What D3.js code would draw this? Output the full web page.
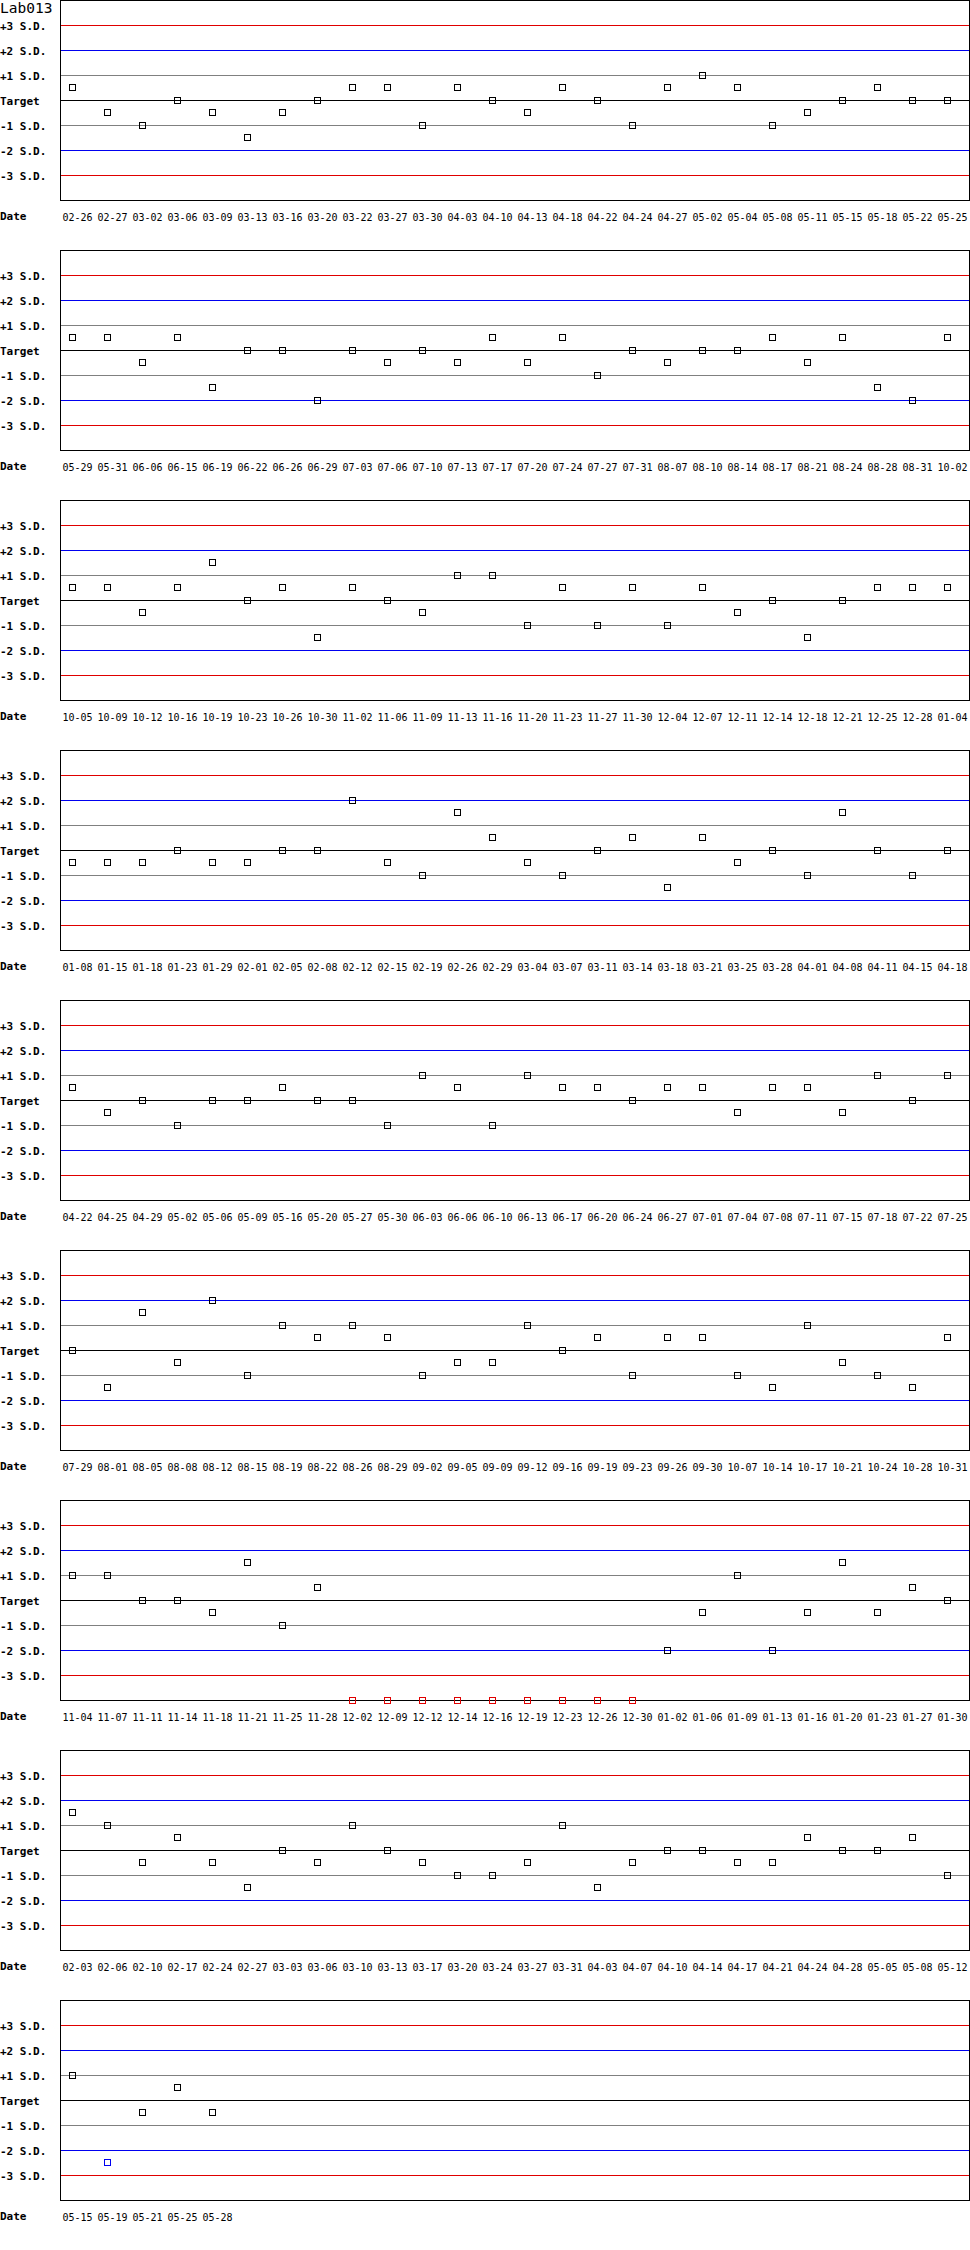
<!DOCTYPE html>
<html>
<head>
<meta charset="utf-8">
<script src="https://cdn.jsdelivr.net/npm/d3@7"></script>
<style>
  html, body { margin: 0; padding: 0; background: #fff; }
  svg { display: block; }
  text { font-family: "DejaVu Sans Mono", "Liberation Mono", monospace; }
</style>
</head>
<body>
<div id="chart"></div>
<script>
// ---------- data ----------
const chartTitle = "Lab013";
const sdLevels = [3, 2, 1, 0, -1, -2, -3];
const sdLabels = ["+3 S.D.", "+2 S.D.", "+1 S.D.", "Target", "-1 S.D.", "-2 S.D.", "-3 S.D."];
const xTitle = "Date";

const dates1 = ["02-26","02-27","03-02","03-06","03-09","03-13","03-16","03-20","03-22","03-27","03-30","04-03","04-10","04-13","04-18","04-22","04-24","04-27","05-02","05-04","05-08","05-11","05-15","05-18","05-22","05-25"];
const values1 = [0.5,-0.5,-1,0,-0.5,-1.5,-0.5,0,0.5,0.5,-1,0.5,0,-0.5,0.5,0,-1,0.5,1,0.5,-1,-0.5,0,0.5,0,0];

const dates2 = ["05-29","05-31","06-06","06-15","06-19","06-22","06-26","06-29","07-03","07-06","07-10","07-13","07-17","07-20","07-24","07-27","07-31","08-07","08-10","08-14","08-17","08-21","08-24","08-28","08-31","10-02"];
const values2 = [0.5,0.5,-0.5,0.5,-1.5,0,0,-2,0,-0.5,0,-0.5,0.5,-0.5,0.5,-1,0,-0.5,0,0,0.5,-0.5,0.5,-1.5,-2,0.5];

const dates3 = ["10-05","10-09","10-12","10-16","10-19","10-23","10-26","10-30","11-02","11-06","11-09","11-13","11-16","11-20","11-23","11-27","11-30","12-04","12-07","12-11","12-14","12-18","12-21","12-25","12-28","01-04"];
const values3 = [0.5,0.5,-0.5,0.5,1.5,0,0.5,-1.5,0.5,0,-0.5,1,1,-1,0.5,-1,0.5,-1,0.5,-0.5,0,-1.5,0,0.5,0.5,0.5];

const dates4 = ["01-08","01-15","01-18","01-23","01-29","02-01","02-05","02-08","02-12","02-15","02-19","02-26","02-29","03-04","03-07","03-11","03-14","03-18","03-21","03-25","03-28","04-01","04-08","04-11","04-15","04-18"];
const values4 = [-0.5,-0.5,-0.5,0,-0.5,-0.5,0,0,2,-0.5,-1,1.5,0.5,-0.5,-1,0,0.5,-1.5,0.5,-0.5,0,-1,1.5,0,-1,0];

const dates5 = ["04-22","04-25","04-29","05-02","05-06","05-09","05-16","05-20","05-27","05-30","06-03","06-06","06-10","06-13","06-17","06-20","06-24","06-27","07-01","07-04","07-08","07-11","07-15","07-18","07-22","07-25"];
const values5 = [0.5,-0.5,0,-1,0,0,0.5,0,0,-1,1,0.5,-1,1,0.5,0.5,0,0.5,0.5,-0.5,0.5,0.5,-0.5,1,0,1];

const dates6 = ["07-29","08-01","08-05","08-08","08-12","08-15","08-19","08-22","08-26","08-29","09-02","09-05","09-09","09-12","09-16","09-19","09-23","09-26","09-30","10-07","10-14","10-17","10-21","10-24","10-28","10-31"];
const values6 = [0,-1.5,1.5,-0.5,2,-1,1,0.5,1,0.5,-1,-0.5,-0.5,1,0,0.5,-1,0.5,0.5,-1,-1.5,1,-0.5,-1,-1.5,0.5];

const dates7 = ["11-04","11-07","11-11","11-14","11-18","11-21","11-25","11-28","12-02","12-09","12-12","12-14","12-16","12-19","12-23","12-26","12-30","01-02","01-06","01-09","01-13","01-16","01-20","01-23","01-27","01-30"];
const values7 = [1,1,0,0,-0.5,1.5,-1,0.5,-4,-4,-4,-4,-4,-4,-4,-4,-4,-2,-0.5,1,-2,-0.5,1.5,-0.5,0.5,0];

const dates8 = ["02-03","02-06","02-10","02-17","02-24","02-27","03-03","03-06","03-10","03-13","03-17","03-20","03-24","03-27","03-31","04-03","04-07","04-10","04-14","04-17","04-21","04-24","04-28","05-05","05-08","05-12"];
const values8 = [1.5,1,-0.5,0.5,-0.5,-1.5,0,-0.5,1,0,-0.5,-1,-1,-0.5,1,-1.5,-0.5,0,0,-0.5,-0.5,0.5,0,0,0.5,-1];

const dates9 = ["05-15","05-19","05-21","05-25","05-28"];
const values9 = [1,-2.5,-0.5,0.5,-0.5];

const panels = [
  [dates1, values1], [dates2, values2], [dates3, values3],
  [dates4, values4], [dates5, values5], [dates6, values6],
  [dates7, values7], [dates8, values8], [dates9, values9]
];

// ---------- layout ----------
const W = 970, H = 2250;
const panelStep = 250;
const plotLeft = 60, plotRight = 969, plotTop = 0, plotBottom = 200;
const pointsPerPanel = 26;

const RED = "#e00000", BLUE = "#0000f0", GRAY = "#808080", BLACK = "#000000";
function lineColor(l) {
  const a = Math.abs(l);
  return a === 3 ? RED : a === 2 ? BLUE : a === 1 ? GRAY : BLACK;
}
function pointColor(v) {
  const a = Math.abs(v);
  return a > 3 ? RED : a > 2 ? BLUE : BLACK;
}

const x = d3.scaleLinear().domain([0, pointsPerPanel - 1]).range([72, 72 + 35 * (pointsPerPanel - 1)]);
const y = d3.scaleLinear().domain([4, -4]).range([plotTop, plotBottom]).clamp(true);

const svg = d3.select("#chart").append("svg")
  .attr("width", W).attr("height", H)
  .attr("viewBox", `0 0 ${W} ${H}`);

svg.append("rect").attr("width", W).attr("height", H).attr("fill", "#fff");

svg.append("text")
  .attr("x", 0).attr("y", 13)
  .attr("font-size", "14.5px")
  .attr("fill", "#000")
  .text(chartTitle);

panels.forEach(([dates, values], p) => {
  const g = svg.append("g").attr("transform", `translate(0,${p * panelStep})`);

  // reference lines
  g.selectAll("line.sd").data(sdLevels).join("line")
    .attr("class", "sd")
    .attr("x1", plotLeft).attr("x2", plotRight + 1)
    .attr("y1", d => Math.floor(y(d)) + 0.5)
    .attr("y2", d => Math.floor(y(d)) + 0.5)
    .attr("stroke", d => lineColor(d))
    .attr("stroke-width", 1)
    .attr("shape-rendering", "crispEdges");

  // frame
  g.append("rect")
    .attr("x", plotLeft + 0.5).attr("y", plotTop + 0.5)
    .attr("width", plotRight - plotLeft).attr("height", plotBottom - plotTop)
    .attr("fill", "none").attr("stroke", "#000").attr("stroke-width", 1)
    .attr("shape-rendering", "crispEdges");

  // left axis labels
  const yAxis = d3.axisLeft(y).tickValues(sdLevels)
    .tickFormat(d => sdLabels[sdLevels.indexOf(d)]).tickSize(0);
  const ya = g.append("g").attr("transform", `translate(${plotLeft},0)`).call(yAxis);
  ya.select(".domain").remove();
  ya.selectAll("text")
    .attr("x", -plotLeft).attr("dy", null)
    .attr("y", 4)
    .attr("text-anchor", "start")
    .attr("font-family", "DejaVu Sans Mono")
    .attr("font-weight", "bold")
    .attr("font-size", "11px")
    .attr("fill", "#000");

  // bottom axis labels
  const idx = d3.range(dates.length);
  const xAxis = d3.axisBottom(x).tickValues(idx)
    .tickFormat(i => dates[i]).tickSize(0);
  const xa = g.append("g").attr("transform", `translate(0,${plotBottom})`).call(xAxis);
  xa.select(".domain").remove();
  xa.selectAll("text")
    .attr("x", -10).attr("dy", null)
    .attr("y", 21)
    .attr("text-anchor", "start")
    .attr("font-family", "DejaVu Sans Mono")
    .attr("font-size", "10px")
    .attr("fill", "#000");

  g.append("text")
    .attr("x", 0).attr("y", 220)
    .attr("font-weight", "bold")
    .attr("font-size", "11px")
    .attr("fill", "#000")
    .text(xTitle);

  // points
  g.selectAll("rect.pt").data(values).join("rect")
    .attr("class", "pt")
    .attr("x", (d, i) => Math.round(x(i)) - 2.5)
    .attr("y", d => Math.floor(y(d)) - 2.5)
    .attr("width", 6).attr("height", 6)
    .attr("fill", "none")
    .attr("stroke", d => pointColor(d))
    .attr("stroke-width", 1)
    .attr("shape-rendering", "crispEdges");
});
</script>
</body>
</html>
